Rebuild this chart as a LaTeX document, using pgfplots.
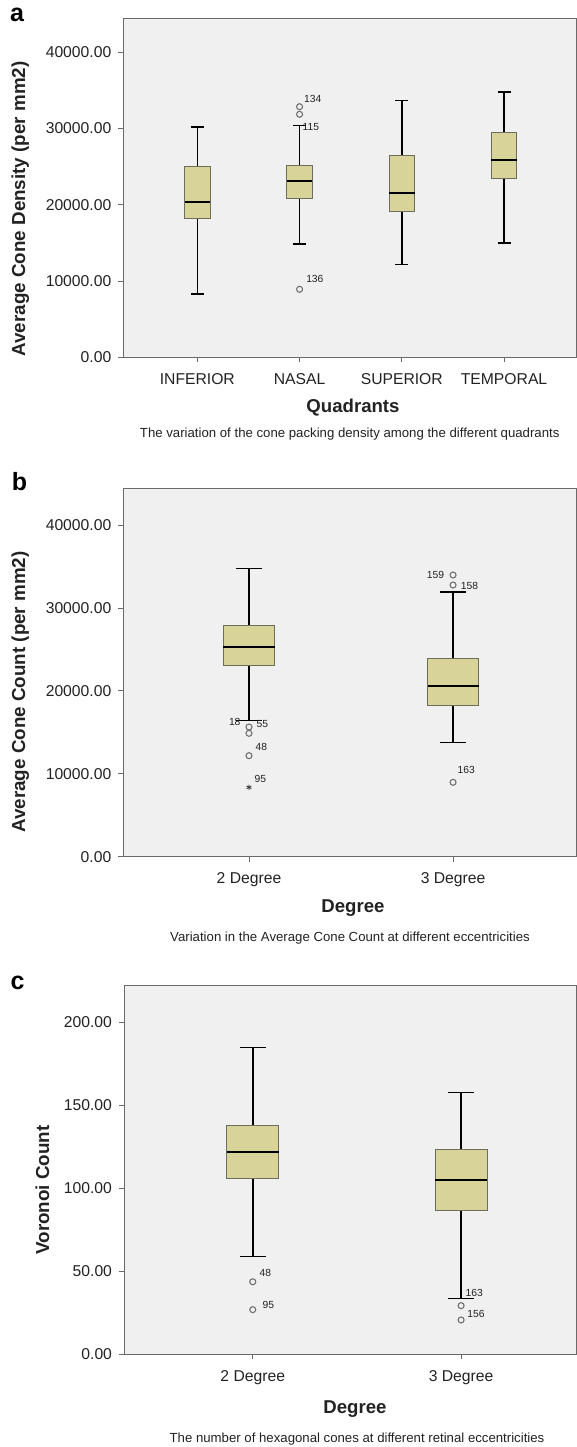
\documentclass[border=0pt]{standalone}
\usepackage{fontspec}
\setmainfont{Liberation Sans}
\usepackage{pgfplots}
\pgfplotsset{compat=1.18}
\usepgfplotslibrary{statistics}
\definecolor{bggray}{HTML}{F0F0F0}
\definecolor{boxfill}{HTML}{D8D398}
\definecolor{boxedge}{HTML}{6E6E5E}
\definecolor{framec}{HTML}{6A6A6A}
\definecolor{outl}{HTML}{707070}
\definecolor{txt}{HTML}{222222}
\newcommand{\lab}{\fontsize{10.3}{12}\selectfont}
\pgfplotsset{
  spss/.style={
    scale only axis,
    anchor=south west,
    axis background/.style={fill=bggray},
    axis line style={draw=framec, line width=0.9pt},
    tick align=outside,
    xtick pos=bottom, ytick pos=left,
    major tick length=5pt,
    tick style={draw=framec, line width=0.9pt},
    ymin=0,
    tick label style={font=\fontsize{15.7}{18}\selectfont, text=txt},
    x tick label style={yshift=-7.5pt},
    /pgf/number format/assume math mode=true,
    y tick label style={xshift=-3.5pt, /pgf/number format/fixed, /pgf/number format/fixed zerofill, /pgf/number format/precision=2, /pgf/number format/1000 sep={}},
    scaled y ticks=false,
    boxplot/draw direction=y,
    boxplot/every box/.style={fill=boxfill, draw=boxedge, line width=1pt},
    boxplot/every median/.style={draw=black, line width=2.2pt},
    boxplot/every whisker/.style={draw=black, line width=1.5pt},
    boxplot/box extend=0.25,
    boxplot/whisker extend=0.127,
    clip=false,
  },
  bx/.style={mark=o, mark size=3pt, mark options={draw=outl, line width=1.1pt, fill=none}},
}
\begin{document}
\begin{tikzpicture}
\path[use as bounding box] (0,0) rectangle (577pt,-1447pt);
% ---------------- panel a
\begin{axis}[spss, at={(123.3pt,-357.3pt)}, width=452.7pt, height=339pt,
  xmin=-0.724, xmax=3.704, ymax=44459,
  ytick={0,10000,20000,30000,40000},
  xtick={0,1,2,3}, xticklabels={INFERIOR,NASAL,SUPERIOR,TEMPORAL}]
\addplot[mark=none, boxplot prepared={draw position=0, lower whisker=8302, lower quartile=18138, median=20328, upper quartile=24997, upper whisker=30203}] coordinates {};
\addplot[bx, boxplot prepared={draw position=1, lower whisker=14859, lower quartile=20800, median=23082, upper quartile=25089, upper whisker=30374}] table[row sep=\\, y index=0] {y\\ 32866\\ 31869\\ 8918\\};
\addplot[mark=none, boxplot prepared={draw position=2, lower whisker=12144, lower quartile=19056, median=21587, upper quartile=26439, upper whisker=33705}] coordinates {};
\addplot[mark=none, boxplot prepared={draw position=3, lower whisker=14989, lower quartile=23442, median=25882, upper quartile=29542, upper whisker=34800}] coordinates {};
\node[anchor=base west, font=\lab, text=txt] at (axis cs:1.011,33480) {134};
\node[anchor=base west, font=\lab, text=txt] at (axis cs:0.995,29679) {115};
\node[anchor=base west, font=\lab, text=txt] at (axis cs:1.031,9784) {136};
\end{axis}
% ---------------- panel b
\begin{axis}[spss, at={(123.3pt,-856.7pt)}, width=453.2pt, height=368.4pt,
  xmin=-0.616, xmax=1.605, ymax=44440,
  ytick={0,10000,20000,30000,40000},
  xtick={0,1}, xticklabels={2 Degree,3 Degree}]
\addplot[bx, boxplot prepared={draw position=0, lower whisker=16450, lower quartile=23088, median=25332, upper quartile=27913, upper whisker=34789}] table[row sep=\\, y index=0] {y\\ 15645\\ 14885\\ 12183\\};
\addplot[only marks, mark=asterisk, mark size=2.8pt, mark options={draw=black!80, line width=0.8pt}] coordinates {(0,8371)};
\addplot[bx, boxplot prepared={draw position=1, lower whisker=13752, lower quartile=18299, median=20591, upper quartile=23932, upper whisker=31930}] table[row sep=\\, y index=0] {y\\ 33981\\ 32774\\ 8975\\};
\node[anchor=base east, font=\lab, text=txt] at (axis cs:-0.0245,15838) {18};
\node[anchor=base west, font=\lab, text=txt] at (axis cs:0.0196,15561) {55};
\node[anchor=base west, font=\lab, text=txt] at (axis cs:0.0147,12786) {48};
\node[anchor=base west, font=\lab, text=txt] at (axis cs:0.0098,8926) {95};
\node[anchor=base east, font=\lab, text=txt] at (axis cs:0.973,33530) {159};
\node[anchor=base west, font=\lab, text=txt] at (axis cs:1.0216,32290) {158};
\node[anchor=base west, font=\lab, text=txt] at (axis cs:1.005,10012) {163};
\end{axis}
% ---------------- panel c
\begin{axis}[spss, at={(124pt,-1354.3pt)}, width=452.5pt, height=369.3pt,
  xmin=-0.618, xmax=1.554, ymax=222.5,
  ytick={0,50,100,150,200},
  xtick={0,1}, xticklabels={2 Degree,3 Degree}]
\addplot[bx, boxplot prepared={draw position=0, lower whisker=59.0, lower quartile=106.0, median=121.9, upper quartile=138.0, upper whisker=184.9}] table[row sep=\\, y index=0] {y\\ 43.7\\ 26.9\\};
\addplot[bx, boxplot prepared={draw position=1, lower whisker=33.7, lower quartile=86.9, median=104.8, upper quartile=123.3, upper whisker=157.8}] table[row sep=\\, y index=0] {y\\ 29.3\\ 20.7\\};
\node[anchor=base west, font=\lab, text=txt] at (axis cs:0.016,46.6) {48};
\node[anchor=base west, font=\lab, text=txt] at (axis cs:0.030,27.9) {95};
\node[anchor=base west, font=\lab, text=txt] at (axis cs:1.005,35.1) {163};
\node[anchor=base west, font=\lab, text=txt] at (axis cs:1.013,21.9) {156};
\end{axis}
% ---------------- texts
\tikzset{plet/.style={font=\bfseries\fontsize{25}{28}\selectfont, anchor=base},
  ylab/.style={font=\bfseries\fontsize{18.8}{22}\selectfont, rotate=90, anchor=base, text=txt},
  xlab/.style={font=\bfseries\fontsize{18.6}{22}\selectfont, anchor=base, text=txt},
  capt/.style={font=\fontsize{13.2}{15}\selectfont, anchor=base, text=txt}}
\node[plet] at (17pt,-22pt) {a};
\node[plet] at (19.5pt,-490pt) {b};
\node[plet] at (17.5pt,-989pt) {c};
\node[ylab] at (25pt,-209pt) {Average Cone Density (per mm2)};
\node[ylab] at (25pt,-692pt) {Average Cone Count (per mm2)};
\node[ylab] at (49pt,-1190pt) {Voronoi Count};
\node[xlab] at (353pt,-412.7pt) {Quadrants};
\node[xlab] at (353pt,-912pt) {Degree};
\node[xlab] at (355pt,-1413.4pt) {Degree};
\node[capt] at (349.7pt,-437pt) {The variation of the cone packing density among the different quadrants};
\node[capt] at (350pt,-941pt) {Variation in the Average Cone Count at different eccentricities};
\node[capt] at (357pt,-1442pt) {The number of hexagonal cones at different retinal eccentricities};
\end{tikzpicture}
\end{document}
